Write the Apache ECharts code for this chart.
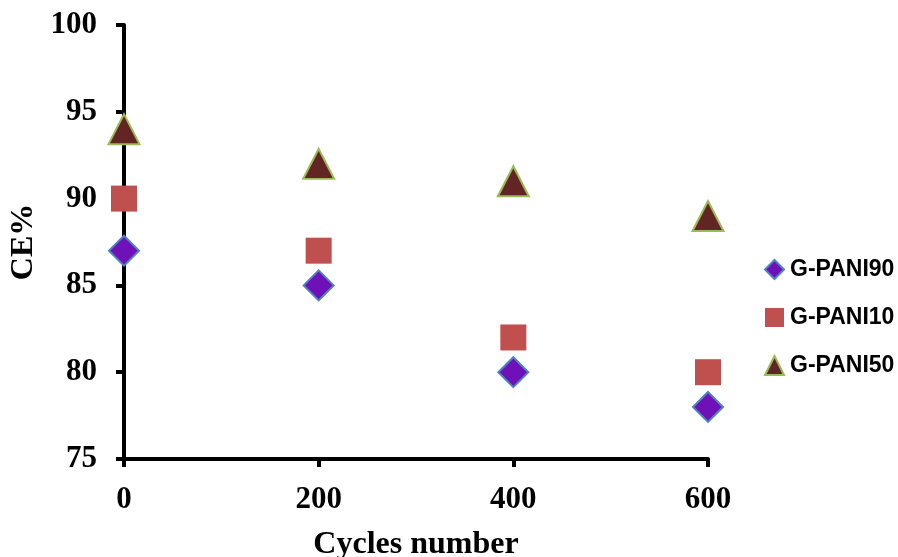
<!DOCTYPE html>
<html>
<head>
<meta charset="utf-8">
<script src="https://cdn.jsdelivr.net/npm/echarts@6/dist/echarts.min.js"></script>
<style>html,body{margin:0;padding:0;background:#fff;overflow:hidden}#c{width:898px;height:557px}</style>
</head>
<body>
<div id="c"></div>
<script>
const cycles = [0, 200, 400, 600];
const gpani90 = [87, 85, 80, 78];
const gpani10 = [90, 87, 82, 80];
const gpani50 = [94, 92, 91, 89];
const seriesNames = ['G-PANI90', 'G-PANI10', 'G-PANI50'];

const chart = echarts.init(document.getElementById('c'), null, {renderer: 'canvas', width: 898, height: 557});
const pair = arr => cycles.map((c, i) => [c, arr[i]]);
const serif = '"Liberation Serif","Times New Roman",serif';
const tickFont = {fontFamily: serif, fontWeight: 'bold', fontSize: 31, color: '#000'};
const nameFont = {fontFamily: serif, fontWeight: 'bold', fontSize: 32, color: '#000'};

chart.setOption({
  animation: false,
  backgroundColor: '#fff',
  grid: {left: 124, right: 190, top: 25, bottom: 98, containLabel: false, outerBoundsMode: 'none'},
  legend: {
    orient: 'vertical',
    left: 759,
    top: 253,
    padding: 5,
    itemWidth: 19,
    itemHeight: 19,
    itemGap: 25,
    textStyle: {fontFamily: '"Liberation Sans",Arial,sans-serif', fontWeight: 'bold', fontSize: 23, color: '#000', padding: [0, 0, 0, 1]},
    data: [
      {name: seriesNames[0], icon: 'diamond'},
      {name: seriesNames[1], icon: 'rect'},
      {name: seriesNames[2], icon: 'triangle'}
    ]
  },
  xAxis: {
    type: 'value', min: 0, max: 600, interval: 200,
    name: 'Cycles number', nameLocation: 'middle', nameGap: 70,
    nameTextStyle: nameFont,
    axisLine: {show: true, onZero: false, lineStyle: {color: '#000', width: 4}},
    axisTick: {show: true, inside: false, length: 8, lineStyle: {color: '#000', width: 4}},
    axisLabel: Object.assign({margin: 25}, tickFont),
    splitLine: {show: false}
  },
  yAxis: {
    type: 'value', min: 75, max: 100, interval: 5,
    name: 'CE%', nameLocation: 'middle', nameGap: 82,
    nameTextStyle: nameFont,
    axisLine: {show: true, onZero: false, lineStyle: {color: '#000', width: 4}},
    axisTick: {show: true, inside: false, length: 8, lineStyle: {color: '#000', width: 4}},
    axisLabel: Object.assign({margin: 27}, tickFont),
    splitLine: {show: false}
  },
  series: [
    {
      name: seriesNames[2], type: 'scatter', data: pair(gpani50),
      symbol: 'triangle', symbolSize: [31, 30],
      itemStyle: {color: '#632523', borderColor: '#9bbb59', borderWidth: 2, opacity: 1}, z: 3
    },
    {
      name: seriesNames[1], type: 'scatter', data: pair(gpani10),
      symbol: 'rect', symbolSize: [26, 26],
      itemStyle: {color: '#c0504d', borderColor: '#c0504d', borderWidth: 0, opacity: 1}, z: 4
    },
    {
      name: seriesNames[0], type: 'scatter', data: pair(gpani90),
      symbol: 'diamond', symbolSize: [30, 30],
      itemStyle: {color: '#7010b8', borderColor: '#4f81bd', borderWidth: 2, opacity: 1}, z: 5
    }
  ]
});
</script>
</body>
</html>
